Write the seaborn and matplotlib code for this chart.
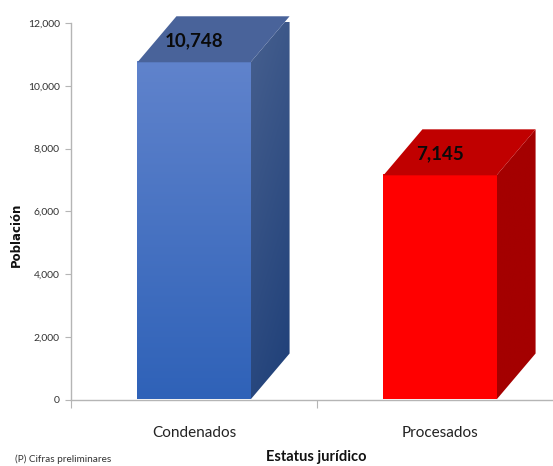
import numpy as np
import pandas as pd
import matplotlib
matplotlib.use("Agg")
import matplotlib.pyplot as plt
from matplotlib.colors import LinearSegmentedColormap
from matplotlib.patches import Polygon
from matplotlib.ticker import FixedLocator, FuncFormatter
import seaborn as sns

categories = ["Condenados", "Procesados"]
values = [10748, 7145]
yticks = [0, 2000, 4000, 6000, 8000, 10000, 12000]
front_colors = [("#6083cc", "#2f62b8"), ("#ff0000", "#ff0000")]
top_colors = ["#49639a", "#c00000"]
side_colors = [("#47608f", "#1e3f78"), ("#a40000", "#a40000")]

W, H = 553, 466
sns.set_theme(style="white")
plt.rcParams["font.family"] = ["Lato", "DejaVu Sans"]
fig = plt.figure(figsize=(W / 100, H / 100), dpi=100)
ax = fig.add_axes([71 / W, 1 - 399.5 / H, 492 / W, 376.5 / H])

df = pd.DataFrame({"estatus": categories, "poblacion": values})
sns.barplot(data=df, x="estatus", y="poblacion", ax=ax, width=0.46, color="white",
            saturation=1, errorbar=None, zorder=1)
ax.set_xlim(-0.5, 1.5)
ax.set_ylim(0, 12000)

dx = 39 / 246
dy = 46 / 376.5 * 12000
grad = np.linspace(0, 1, 256)

for i, bar in enumerate(list(ax.patches)):
    x0, w, h = bar.get_x(), bar.get_width(), bar.get_height()
    x1 = x0 + w
    cm_front = LinearSegmentedColormap.from_list("f", front_colors[i])
    im = ax.imshow(grad[:, None], extent=(x0, x1, 0, h), origin="upper", cmap=cm_front,
                   aspect="auto", zorder=3)
    bar.set_visible(False)
    top = Polygon([(x0, h), (x1, h), (x1 + dx, h + dy), (x0 + dx, h + dy)], closed=True,
                  facecolor=top_colors[i], edgecolor="none", zorder=3, clip_on=False)
    ax.add_patch(top)
    side_pts = [(x1, 0), (x1 + dx, dy), (x1 + dx, h + dy), (x1, h)]
    cm_side = LinearSegmentedColormap.from_list("s", side_colors[i])
    g2 = np.linspace(0, 1, 128)
    diag = (g2[:, None] * 0.75 + g2[None, :] * 0.25)
    im2 = ax.imshow(diag, extent=(x1, x1 + dx, 0, h + dy), origin="upper", cmap=cm_side,
                    aspect="auto", zorder=2)
    side = Polygon(side_pts, closed=True, transform=ax.transData, facecolor="none",
                   edgecolor="none", clip_on=False)
    ax.add_patch(side)
    im2.set_clip_box(None)
    im2.set_clip_path(side)
    ax.text(x0 + w / 2, h + 700, f"{values[i]:,}", ha="center", va="center", fontsize=13.5,
            fontweight="bold", color="#0a0a0a", zorder=5, clip_on=False)

ax.set_xlim(-0.5, 1.5)
ax.set_ylim(0, 12000)
sns.despine(ax=ax, top=True, right=True)
for s in ["left", "bottom"]:
    ax.spines[s].set_color("#b5b5b5")
    ax.spines[s].set_linewidth(1.0)
    ax.spines[s].set_zorder(1)

ax.set_yticks(yticks)
ax.yaxis.set_major_formatter(FuncFormatter(lambda v, _: f"{int(v):,}"))
ax.tick_params(axis="y", which="major", left=True, length=4, width=0.8, color="#b5b5b5",
               labelsize=7.5, labelcolor="#333333", pad=4)
ax.xaxis.set_minor_locator(FixedLocator([-0.5, 0.5]))
ax.tick_params(axis="x", which="minor", bottom=True, length=6, width=0.8, color="#b5b5b5")
ax.tick_params(axis="x", which="major", bottom=False, labelsize=11, labelcolor="#222222", pad=13)
ax.set_xticks([0, 1])
ax.set_xticklabels(categories)
ax.set_xlabel("")
ax.set_ylabel("")

fig.text(16 / W, 1 - 235 / H, "Población", rotation=90, ha="center", va="center",
         fontsize=8.5, fontweight="bold", family="DejaVu Sans", color="#111111")
fig.text(316 / W, 1 - 457 / H, "Estatus jurídico", ha="center", va="center",
         fontsize=10.5, fontweight="bold", color="#111111")
fig.text(15 / W, 1 - 459 / H, "(P) Cifras preliminares", ha="left", va="center",
         fontsize=7.2, color="#333333")

fig.savefig("out.png", dpi=100)
